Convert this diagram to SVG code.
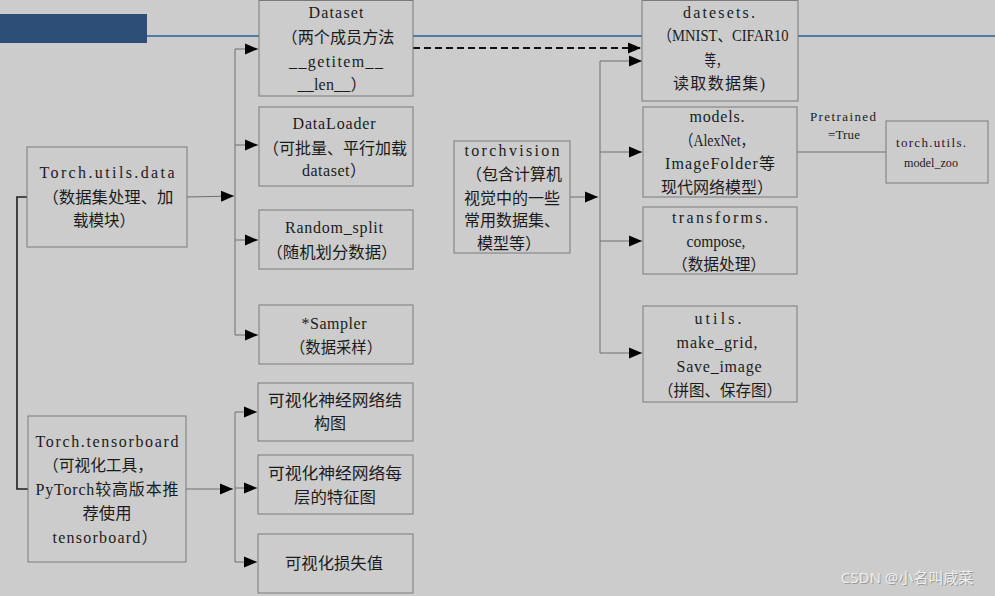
<svg xmlns="http://www.w3.org/2000/svg" width="995" height="596" viewBox="0 0 995 596">
<style>
.t{font-family:"Liberation Serif","Noto Sans CJK SC",serif;font-size:16px;fill:#1b1b1b;text-anchor:middle}
.s{font-size:13px}
.box{fill:#cccccc;stroke:#7a7a7a;stroke-width:1}
.c{stroke:#6e6e6e;stroke-width:1;fill:none}
.a{marker-end:url(#arr)}
</style>
<defs>
<marker id="arr" markerUnits="userSpaceOnUse" markerWidth="14" markerHeight="12" refX="13" refY="6" orient="auto">
<path d="M0,0.5 L13,6 L0,11.5 z" fill="#000"/>
</marker>
</defs>
<rect x="0" y="0" width="995" height="596" fill="#cccccc"/>
<g id="banner">
<rect x="0" y="14" width="147" height="29" fill="#2d4e76"/>
<line x1="147" y1="36" x2="995" y2="36" stroke="#4f78ab" stroke-width="2"/>
</g>
<g id="connectors">
<path class="c a" d="M187,197 L234,196"/>
<path class="c" d="M235,49 V335"/>
<path class="c a" d="M235,49 H258"/>
<path class="c a" d="M235,145 H258"/>
<path class="c a" d="M235,240 H258"/>
<path class="c a" d="M235,335 H258"/>
<path class="c a" d="M186,489 H233"/>
<path class="c" d="M235,412 V562"/>
<path class="c a" d="M235,412 H257"/>
<path class="c a" d="M235,488 H257"/>
<path class="c a" d="M235,562 H257"/>
<path d="M27,197 H17 V489 H28" fill="none" stroke="#1e1e1e" stroke-width="1.6"/>
<path class="c a" d="M570,197 H598"/>
<path class="c" d="M600,61 V353"/>
<path class="c a" d="M600,61 H642"/>
<path class="c a" d="M600,152 H642"/>
<path class="c a" d="M600,241 H642"/>
<path class="c a" d="M600,353 H642"/>
<path d="M413,48 H641" fill="none" stroke="#111" stroke-width="2" stroke-dasharray="7,4" marker-end="url(#arr)"/>
<path class="c" d="M797,152 H886"/>
<text class="t s" x="843" y="121" textLength="66" lengthAdjust="spacing">Pretrained</text>
<text class="t s" x="844" y="139" textLength="32" lengthAdjust="spacing">=True</text>
</g>
<g id="dataset">
<rect class="box" x="259" y="0.5" width="154" height="95.5"/>
<text class="t" x="336" y="18" textLength="55" lengthAdjust="spacing">Dataset</text>
<text class="t" x="338" y="43" textLength="113" lengthAdjust="spacingAndGlyphs">（两个成员方法</text>
<text class="t" x="336" y="67" textLength="94" lengthAdjust="spacing">__getitem__</text>
<text class="t" x="332" y="90" textLength="69" lengthAdjust="spacing">__len__）</text>
</g>
<g id="dataloader">
<rect class="box" x="259" y="107" width="154" height="79"/>
<text class="t" x="334" y="129" textLength="83" lengthAdjust="spacing">DataLoader</text>
<text class="t" x="335" y="154" textLength="144" lengthAdjust="spacingAndGlyphs">（可批量、平行加载</text>
<text class="t" x="334" y="176" textLength="64" lengthAdjust="spacing">dataset）</text>
</g>
<g id="random_split">
<rect class="box" x="259" y="210" width="154" height="59"/>
<text class="t" x="334" y="233" textLength="98" lengthAdjust="spacing">Random_split</text>
<text class="t" x="332" y="258" textLength="131" lengthAdjust="spacingAndGlyphs">（随机划分数据）</text>
</g>
<g id="sampler">
<rect class="box" x="259" y="305" width="154" height="59"/>
<text class="t" x="334" y="329" textLength="65" lengthAdjust="spacing">*Sampler</text>
<text class="t" x="336" y="353" textLength="92" lengthAdjust="spacingAndGlyphs">（数据采样）</text>
</g>
<g id="torch_utils_data">
<rect class="box" x="27" y="147" width="160" height="100"/>
<text class="t" x="107" y="178" textLength="135" lengthAdjust="spacing">Torch.utils.data</text>
<text class="t" x="108" y="203" textLength="131" lengthAdjust="spacingAndGlyphs">（数据集处理、加</text>
<text class="t" x="104" y="226" textLength="62" lengthAdjust="spacingAndGlyphs">载模块）</text>
</g>
<g id="torch_tensorboard">
<rect class="box" x="28" y="416" width="158" height="146"/>
<text class="t" x="107" y="447" textLength="143" lengthAdjust="spacing">Torch.tensorboard</text>
<text class="t" x="98" y="471" textLength="110" lengthAdjust="spacingAndGlyphs">（可视化工具，</text>
<text class="t" x="107" y="495" textLength="143" lengthAdjust="spacing">PyTorch较高版本推</text>
<text class="t" x="107" y="519" textLength="49" lengthAdjust="spacingAndGlyphs">荐使用</text>
<text class="t" x="105" y="543" textLength="105" lengthAdjust="spacing">tensorboard）</text>
</g>
<g id="vis_structure">
<rect class="box" x="258" y="383" width="155" height="58"/>
<text class="t" x="335" y="406" textLength="134" lengthAdjust="spacingAndGlyphs">可视化神经网络结</text>
<text class="t" x="330" y="429">构图</text>
</g>
<g id="vis_feature">
<rect class="box" x="258" y="455" width="155" height="59"/>
<text class="t" x="335" y="479" textLength="134" lengthAdjust="spacingAndGlyphs">可视化神经网络每</text>
<text class="t" x="335" y="503" textLength="82" lengthAdjust="spacingAndGlyphs">层的特征图</text>
</g>
<g id="vis_loss">
<rect class="box" x="258" y="534" width="155" height="59"/>
<text class="t" x="334" y="569" textLength="98" lengthAdjust="spacingAndGlyphs">可视化损失值</text>
</g>
<g id="torchvision">
<rect class="box" x="454" y="141" width="116" height="112"/>
<text class="t" x="512" y="156" textLength="95" lengthAdjust="spacing">torchvision</text>
<text class="t" x="514" y="180" textLength="96" lengthAdjust="spacingAndGlyphs">（包含计算机</text>
<text class="t" x="512" y="204" textLength="96" lengthAdjust="spacingAndGlyphs">视觉中的一些</text>
<text class="t" x="512" y="226" textLength="96" lengthAdjust="spacingAndGlyphs">常用数据集、</text>
<text class="t" x="509" y="249" textLength="64" lengthAdjust="spacingAndGlyphs">模型等）</text>
</g>
<g id="datasets">
<rect class="box" x="642" y="0.5" width="156" height="100.5"/>
<text class="t" x="719" y="18" textLength="72" lengthAdjust="spacing">datesets.</text>
<text class="t" x="723" y="41" textLength="131" lengthAdjust="spacingAndGlyphs">（MNIST、CIFAR10</text>
<text class="t" x="716" y="66" textLength="23" lengthAdjust="spacingAndGlyphs">等，</text>
<text class="t" x="719" y="89" textLength="92" lengthAdjust="spacing">读取数据集)</text>
</g>
<g id="models">
<rect class="box" x="643" y="107" width="154" height="90"/>
<text class="t" x="717" y="122" textLength="55" lengthAdjust="spacing">models.</text>
<text class="t" x="717" y="146" textLength="75" lengthAdjust="spacingAndGlyphs">（AlexNet，</text>
<text class="t" x="720" y="169" textLength="110" lengthAdjust="spacing">ImageFolder等</text>
<text class="t" x="717" y="193" textLength="112" lengthAdjust="spacingAndGlyphs">现代网络模型）</text>
</g>
<g id="transforms">
<rect class="box" x="643" y="207" width="154" height="67"/>
<text class="t" x="720" y="223" textLength="96" lengthAdjust="spacing">transforms.</text>
<text class="t" x="716" y="247" textLength="59" lengthAdjust="spacingAndGlyphs">compose,</text>
<text class="t" x="719" y="270" textLength="94" lengthAdjust="spacingAndGlyphs">（数据处理）</text>
</g>
<g id="utils">
<rect class="box" x="643" y="306" width="154" height="96"/>
<text class="t" x="718" y="324" textLength="47" lengthAdjust="spacing">utils.</text>
<text class="t" x="717" y="348" textLength="81" lengthAdjust="spacing">make_grid,</text>
<text class="t" x="719" y="372" textLength="85" lengthAdjust="spacing">Save_image</text>
<text class="t" x="720" y="396" textLength="124" lengthAdjust="spacingAndGlyphs">（拼图、保存图）</text>
</g>
<g id="model_zoo">
<rect class="box" x="886" y="121" width="102" height="62"/>
<text class="t s" x="931" y="147" textLength="70" lengthAdjust="spacing">torch.utils.</text>
<text class="t s" x="931" y="167" textLength="54" lengthAdjust="spacingAndGlyphs">model_zoo</text>
</g>
<g id="watermark">
<text x="908" y="584" font-family="'Noto Sans','Noto Sans CJK SC',sans-serif" font-size="15" fill="#9a9a9a" text-anchor="middle">CSDN @小名叫咸菜</text>
<text x="907" y="583" font-family="'Noto Sans','Noto Sans CJK SC',sans-serif" font-size="15" fill="#eeeeee" text-anchor="middle">CSDN @小名叫咸菜</text>
</g>
</svg>
